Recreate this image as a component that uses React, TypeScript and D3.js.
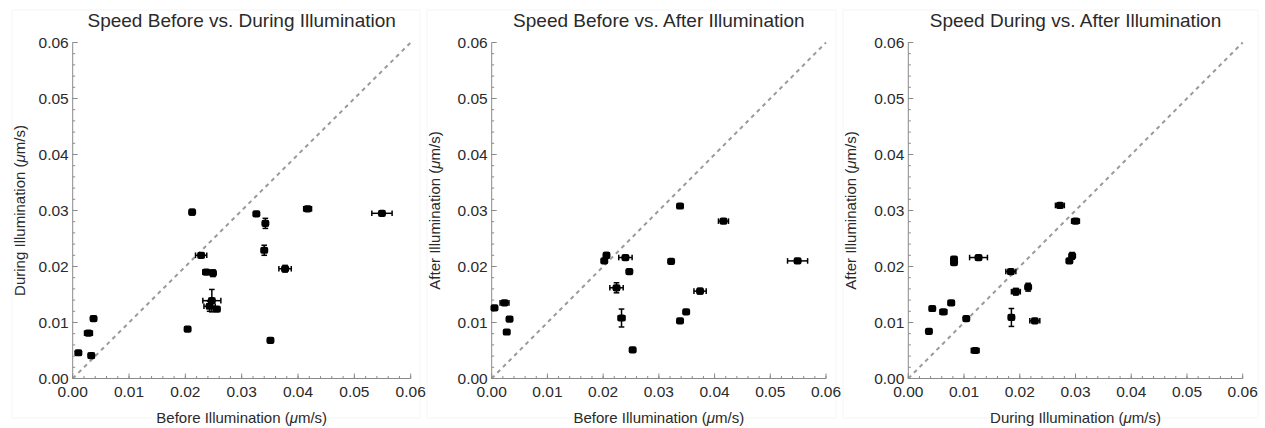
import React from "react";
import * as d3 from "d3";

// ---------- data ----------
const majorTicks = [0, 0.01, 0.02, 0.03, 0.04, 0.05, 0.06];
const titles = [
  "Speed Before vs. During Illumination",
  "Speed Before vs. After Illumination",
  "Speed During vs. After Illumination",
];
const xLabels = ["Before Illumination", "Before Illumination", "During Illumination"];
const yLabels = ["During Illumination", "After Illumination", "After Illumination"];

// Panel 1: before (x) vs during (y)
const p1X = [0.0010, 0.0028, 0.0033, 0.0037, 0.0204, 0.0212, 0.0228, 0.0237, 0.0249, 0.0247, 0.0243, 0.0256, 0.0326, 0.0342, 0.0340, 0.0351, 0.0377, 0.0417, 0.0549];
const p1Y = [0.0046, 0.0081, 0.0041, 0.0107, 0.0088, 0.0297, 0.0220, 0.0190, 0.0188, 0.0139, 0.0129, 0.0124, 0.0294, 0.0277, 0.0229, 0.0068, 0.0196, 0.0303, 0.0295];
const p1XErr = [0.0002, 0.0007, 0.0005, 0.0002, 0.0002, 0.0002, 0.0010, 0.0006, 0.0003, 0.0016, 0.0010, 0.0002, 0.0003, 0.0003, 0.0003, 0.0003, 0.0011, 0.0007, 0.0018];
const p1YErr = [0.0002, 0.0002, 0.0002, 0.0002, 0.0003, 0.0005, 0.0002, 0.0003, 0.0006, 0.0020, 0.0009, 0.0003, 0.0003, 0.0009, 0.0009, 0.0003, 0.0006, 0.0004, 0.0003];

// Panel 2: before (x) vs after (y)
const p2X = [0.0005, 0.0023, 0.0032, 0.0027, 0.0202, 0.0206, 0.0224, 0.0240, 0.0247, 0.0233, 0.0253, 0.0322, 0.0338, 0.0338, 0.0349, 0.0374, 0.0416, 0.0549];
const p2Y = [0.0126, 0.0135, 0.0106, 0.0083, 0.0210, 0.0220, 0.0162, 0.0216, 0.0191, 0.0108, 0.0051, 0.0209, 0.0308, 0.0103, 0.0119, 0.0156, 0.0281, 0.0210];
const p2XErr = [0.0002, 0.0008, 0.0003, 0.0003, 0.0002, 0.0002, 0.0012, 0.0012, 0.0003, 0.0006, 0.0003, 0.0003, 0.0003, 0.0004, 0.0003, 0.0011, 0.0009, 0.0018];
const p2YErr = [0.0002, 0.0002, 0.0002, 0.0002, 0.0003, 0.0005, 0.0009, 0.0002, 0.0003, 0.0016, 0.0002, 0.0002, 0.0004, 0.0002, 0.0002, 0.0005, 0.0002, 0.0002];

// Panel 3: during (x) vs after (y)
const p3X = [0.0037, 0.0043, 0.0063, 0.0077, 0.0104, 0.0082, 0.0082, 0.0126, 0.0120, 0.0184, 0.0193, 0.0185, 0.0215, 0.0227, 0.0272, 0.0300, 0.0294, 0.0289];
const p3Y = [0.0084, 0.0125, 0.0119, 0.0135, 0.0107, 0.0207, 0.0213, 0.0216, 0.0050, 0.0191, 0.0155, 0.0109, 0.0163, 0.0103, 0.0309, 0.0281, 0.0219, 0.0210];
const p3XErr = [0.0002, 0.0002, 0.0006, 0.0005, 0.0002, 0.0002, 0.0002, 0.0016, 0.0007, 0.0009, 0.0008, 0.0005, 0.0003, 0.0009, 0.0008, 0.0007, 0.0003, 0.0004];
const p3YErr = [0.0002, 0.0002, 0.0002, 0.0002, 0.0002, 0.0003, 0.0003, 0.0003, 0.0002, 0.0003, 0.0006, 0.0016, 0.0007, 0.0002, 0.0004, 0.0002, 0.0006, 0.0002];

const panelData = [
  { x: p1X, y: p1Y, xe: p1XErr, ye: p1YErr },
  { x: p2X, y: p2Y, xe: p2XErr, ye: p2YErr },
  { x: p3X, y: p3Y, xe: p3XErr, ye: p3YErr },
];

// ---------- layout ----------
const W = 1265;
const H = 428;
const plotLeft = [72.7, 491.7, 908.3];
const plotRight = [410.7, 826, 1242.7];
const frameLeft = [12, 427, 843];
const frameRight = [420, 836, 1258];
const plotTop = 42.5;
const plotBottom = 378.5;
const FONT = "Arial, 'Liberation Sans', sans-serif";
const AXIS = "#8a8a8a";
const TEXT = "#2a2a2a";

function Panel({ i }: { i: number }) {
  const d = panelData[i];
  const x = d3.scaleLinear().domain([0, 0.06]).range([plotLeft[i], plotRight[i]]);
  const y = d3.scaleLinear().domain([0, 0.06]).range([plotBottom, plotTop]);
  const minor = x.ticks(30);
  const cx = (plotLeft[i] + plotRight[i]) / 2;
  const cy = (plotTop + plotBottom) / 2;
  const cap = 2.8;
  return (
    <g>
      <rect x={frameLeft[i]} y={10} width={frameRight[i] - frameLeft[i]} height={408} fill="none" stroke="#f6f6f6" strokeWidth={1} />
      {/* title */}
      <text x={cx} y={27} textAnchor="middle" fontFamily={FONT} fontSize={19} fill={TEXT}>{titles[i]}</text>
      {/* diagonal */}
      <line x1={x(0)} y1={y(0)} x2={x(0.06)} y2={y(0.06)} stroke="#9a9a9a" strokeWidth={2} strokeDasharray="4,4" />
      {/* axes */}
      <line x1={x(0)} y1={y(0)} x2={x(0.06)} y2={y(0)} stroke={AXIS} strokeWidth={1} />
      <line x1={x(0)} y1={y(0)} x2={x(0)} y2={y(0.06)} stroke={AXIS} strokeWidth={1} />
      {minor.map((t, k) => (
        <g key={"m" + k}>
          <line x1={x(t)} x2={x(t)} y1={y(0)} y2={y(0) - 2.5} stroke={AXIS} />
          <line y1={y(t)} y2={y(t)} x1={x(0)} x2={x(0) + 2.5} stroke={AXIS} />
        </g>
      ))}
      {majorTicks.map((t, k) => (
        <g key={"M" + k}>
          <line x1={x(t)} x2={x(t)} y1={y(0)} y2={y(0) - 5} stroke={AXIS} />
          <line y1={y(t)} y2={y(t)} x1={x(0)} x2={x(0) + 5} stroke={AXIS} />
          <text x={x(t)} y={y(0) + 18} textAnchor="middle" fontFamily={FONT} fontSize={15.5} fill={TEXT}>{t.toFixed(2)}</text>
          <text x={x(0) - 4} y={y(t) + 5} textAnchor="end" fontFamily={FONT} fontSize={15.5} fill={TEXT}>{t.toFixed(2)}</text>
        </g>
      ))}
      {/* axis labels */}
      <text x={cx} y={423} textAnchor="middle" fontFamily={FONT} fontSize={15} fill={TEXT}>
        {xLabels[i]} (<tspan fontStyle="italic">μ</tspan>m/s)
      </text>
      <text transform={`translate(${frameLeft[i] + 13},${cy}) rotate(-90)`} textAnchor="middle" fontFamily={FONT} fontSize={15} fill={TEXT}>
        {yLabels[i]} (<tspan fontStyle="italic">μ</tspan>m/s)
      </text>
      {/* error bars */}
      {d.x.map((v, k) => {
        const px = x(v), py = y(d.y[k]);
        const x0 = x(v - d.xe[k]), x1 = x(v + d.xe[k]);
        const y0 = y(d.y[k] - d.ye[k]), y1 = y(d.y[k] + d.ye[k]);
        return (
          <g key={"e" + k} stroke="#000" strokeWidth={1.5}>
            <line x1={x0} x2={x1} y1={py} y2={py} />
            <line x1={x0} x2={x0} y1={py - cap} y2={py + cap} />
            <line x1={x1} x2={x1} y1={py - cap} y2={py + cap} />
            <line x1={px} x2={px} y1={y0} y2={y1} />
            <line x1={px - cap} x2={px + cap} y1={y0} y2={y0} />
            <line x1={px - cap} x2={px + cap} y1={y1} y2={y1} />
          </g>
        );
      })}
      {d.x.map((v, k) => (
        <rect key={"p" + k} x={x(v) - 4} y={y(d.y[k]) - 3.6} width={8} height={7.2} rx={2.2} fill="#000" />
      ))}
    </g>
  );
}

export default function App() {
  return (
    <svg width={W} height={H} style={{ position: "absolute", left: 0, top: 0, background: "#fff" }}>
      <rect width={W} height={H} fill="#fff" />
      {[0, 1, 2].map((i) => (
        <Panel key={i} i={i} />
      ))}
    </svg>
  );
}
